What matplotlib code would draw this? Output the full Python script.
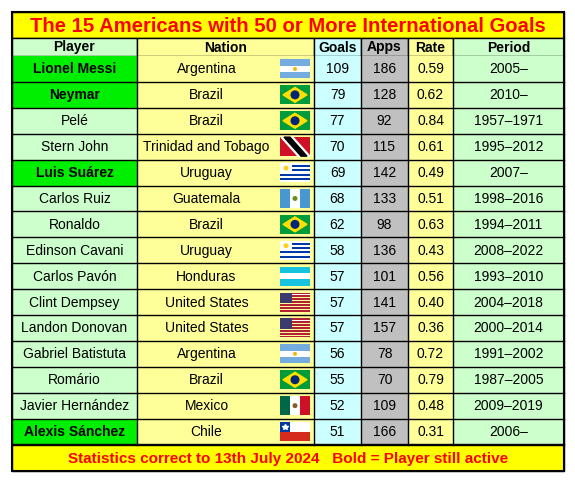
import matplotlib.pyplot as plt
from matplotlib.patches import Rectangle, Circle

players = ["Lionel Messi", "Neymar", "Pelé", "Stern John", "Luis Suárez", "Carlos Ruiz",
           "Ronaldo", "Edinson Cavani", "Carlos Pavón", "Clint Dempsey", "Landon Donovan",
           "Gabriel Batistuta", "Romário", "Javier Hernández", "Alexis Sánchez"]
nations = ["Argentina", "Brazil", "Brazil", "Trinidad and Tobago", "Uruguay", "Guatemala",
           "Brazil", "Uruguay", "Honduras", "United States", "United States", "Argentina",
           "Brazil", "Mexico", "Chile"]
goals = [109, 79, 77, 70, 69, 68, 62, 58, 57, 57, 57, 56, 55, 52, 51]
apps = [186, 128, 92, 115, 142, 133, 98, 136, 101, 141, 157, 78, 70, 109, 166]
rates = ["0.59", "0.62", "0.84", "0.61", "0.49", "0.51", "0.63", "0.43", "0.56", "0.40",
         "0.36", "0.72", "0.79", "0.48", "0.31"]
periods = ["2005–", "2010–", "1957–1971", "1995–2012", "2007–", "1998–2016", "1994–2011",
           "2008–2022", "1993–2010", "2004–2018", "2000–2014", "1991–2002", "1987–2005",
           "2009–2019", "2006–"]
active = [True, True, False, False, True, False, False, False, False, False, False, False,
          False, False, True]

fig = plt.figure(figsize=(5.75, 4.82), dpi=100)
ax = fig.add_axes([0, 0, 1, 1])
ax.set_xlim(0, 575)
ax.set_ylim(482, 0)
ax.axis("off")

cols = [12, 137, 314, 361, 408, 453, 564]
col_bg = ["#ccffcc", "#ffff99", "#ccffff", "#c0c0c0", "#ffff99", "#ccffcc"]
top, head_h, row_h = 12, 26, 25.9
y_head = top + head_h
y_rows = y_head + 18
y_foot = y_rows + row_h * len(players)
bottom = y_foot + 26
lw = 1.0


def cell(x0, y0, x1, y1, fc):
    ax.add_patch(Rectangle((x0, y0), x1 - x0, y1 - y0, fc=fc, ec="black", lw=lw))


def flag(nation, x, y, w=30, h=19):
    def r(x0, y0, ww, hh, c):
        ax.add_patch(Rectangle((x + x0 * w, y + y0 * h), ww * w, hh * h, fc=c, ec="none"))
    if nation == "Argentina":
        r(0, 0, 1, 1, "#74acdf"); r(0, 1 / 3, 1, 1 / 3, "white")
        ax.add_patch(Circle((x + w / 2, y + h / 2), 2, fc="#f6b40e"))
    elif nation == "Brazil":
        r(0, 0, 1, 1, "#009c3b")
        ax.fill([x + 3, x + w / 2, x + w - 3, x + w / 2], [y + h / 2, y + 2, y + h / 2, y + h - 2], c="#ffdf00")
        ax.add_patch(Circle((x + w / 2, y + h / 2), 4.5, fc="#002776"))
    elif nation == "Trinidad and Tobago":
        r(0, 0, 1, 1, "#ce1126")
        ax.fill([x + 1, x + 13, x + w, x + w - 12], [y, y, y + h, y + h], c="white")
        ax.fill([x + 4, x + 10, x + w - 3, x + w - 9], [y, y, y + h, y + h], c="black")
    elif nation == "Uruguay":
        r(0, 0, 1, 1, "white")
        for i in range(4):
            r(0, (2 * i + 1) / 9, 1, 1 / 9, "#0038a8")
        r(0, 0, 0.4, 5 / 9, "white")
        ax.add_patch(Circle((x + 6, y + 5), 2.5, fc="#fcd116"))
    elif nation == "Guatemala":
        r(0, 0, 1, 1, "#4997d0"); r(1 / 3, 0, 1 / 3, 1, "white")
        ax.add_patch(Circle((x + w / 2, y + h / 2), 2.5, fc="#6b8e23"))
    elif nation == "Honduras":
        r(0, 0, 1, 1, "#18c3df"); r(0, 1 / 3, 1, 1 / 3, "white")
    elif nation == "United States":
        for i in range(7):
            r(0, i * 2 / 13, 1, 1 / 13, "#b22234")
        r(0, 1 / 13, 1, 1 / 13, "white")
        r(0, 0, 0.4, 7 / 13, "#3c3b6e")
    elif nation == "Mexico":
        r(0, 0, 1 / 3, 1, "#006847"); r(1 / 3, 0, 1 / 3, 1, "white"); r(2 / 3, 0, 1 / 3, 1, "#ce1126")
        ax.add_patch(Circle((x + w / 2, y + h / 2), 2.5, fc="#8b5a2b"))
    elif nation == "Chile":
        r(0, 0, 1, 1, "white"); r(0, 0.5, 1, 0.5, "#d52b1e"); r(0, 0, 1 / 3, 0.5, "#0039a6")
        ax.plot(x + w / 6, y + h / 4, marker="*", color="white", ms=4)


# title
cell(cols[0], top, cols[-1], y_head, "#ffff00")
ax.text((cols[0] + cols[-1]) / 2, (top + y_head) / 2 + 1, "The 15 Americans with 50 or More International Goals",
        ha="center", va="center", color="red", fontsize=14.6, fontweight="bold", family="Liberation Sans")

headers = ["Player", "Nation", "Goals", "Apps", "Rate", "Period"]
for i, h in enumerate(headers):
    cell(cols[i], y_head, cols[i + 1], y_rows, col_bg[i])
    ax.text((cols[i] + cols[i + 1]) / 2, (y_head + y_rows) / 2 + 0.5, h, ha="center", va="center",
            fontsize=10, fontweight="bold", family="Liberation Sans")

for j in range(len(players)):
    y0 = y_rows + j * row_h
    y1 = y0 + row_h
    yc = (y0 + y1) / 2 + 0.5
    vals = [players[j], nations[j], str(goals[j]), str(apps[j]), rates[j], periods[j]]
    for i, v in enumerate(vals):
        fc = col_bg[i]
        if i == 0 and active[j]:
            fc = "#00ee00"
        ax.add_patch(Rectangle((cols[i], y0), cols[i + 1] - cols[i], row_h, fc=fc, ec="none"))
        xc = (cols[i] + cols[i + 1]) / 2
        if i == 1:
            xc = (cols[1] + 276) / 2
        ax.text(xc, yc, v, ha="center", va="center", fontsize=10, family="Liberation Sans",
                fontweight="bold" if (i == 0 and active[j]) else "normal")
    flag(nations[j], 280, yc - 10)
    ax.plot([cols[0], cols[-1]], [y1, y1], color="black", lw=lw)
for x in cols:
    ax.plot([x, x], [y_rows, y_foot], color="black", lw=lw)

cell(cols[0], y_foot, cols[-1], bottom, "#ffff00")
ax.text((cols[0] + cols[-1]) / 2, (y_foot + bottom) / 2 + 1,
        "Statistics correct to 13th July 2024   Bold = Player still active",
        ha="center", va="center", color="red", fontsize=11, fontweight="bold", family="Liberation Sans")
ax.add_patch(Rectangle((cols[0], top), cols[-1] - cols[0], bottom - top, fc="none", ec="black", lw=1.5))

fig.savefig("out.png", dpi=100, facecolor="white")
